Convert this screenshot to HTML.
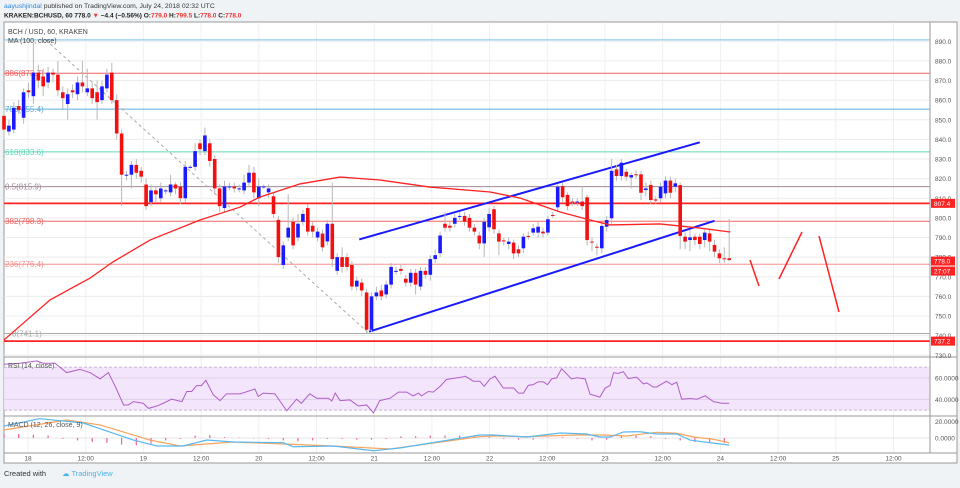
<!DOCTYPE html>
<html><head><meta charset="utf-8">
<style>
html,body{margin:0;padding:0;background:#f0f3f6;}
body{width:960px;height:483px;overflow:hidden;font-family:"Liberation Sans",sans-serif;}
svg text{font-family:"Liberation Sans",sans-serif;}
</style></head>
<body>
<svg id="chart" xmlns="http://www.w3.org/2000/svg" width="960" height="483" viewBox="0 0 960 483">
<rect x="0" y="0" width="960" height="483" fill="#f0f3f6"/>
<text x="4" y="8" font-size="6.8" fill="#2e86de">aayushjindal <tspan fill="#333">published on TradingView.com, July 24, 2018 02:32 UTC</tspan></text>
<text x="4" y="17.5" font-size="6.5" font-weight="bold" fill="#222">KRAKEN:BCHUSD, 60  778.0 <tspan fill="#e33">▼</tspan> −4.4 (−0.56%) O:<tspan fill="#e33">779.0</tspan> H:<tspan fill="#e33">799.5</tspan> L:<tspan fill="#e33">778.0</tspan> C:<tspan fill="#e33">778.0</tspan></text>
<rect x="4" y="22" width="953" height="441" fill="#ffffff" stroke="#999" stroke-width="1"/>
<g id="grid"></g>
<g id="fib"></g>
<g id="draw"></g>
<g id="candles"></g>
<g id="ma"></g>
<g id="rsi"></g>
<g id="macd"></g>
<g id="axes"></g>
<text x="4" y="476" font-size="7.5" fill="#333">Created with</text>
<text x="62" y="476" font-size="7.5" fill="#4ab3e6">☁ TradingView</text>
</svg>
<script>
const opens=[852,844,845,857,851,865,862,874,872,869,874,873,864,858,865,863,869,864,866,864,860,866,874,860,843,822,822,827,824,817,808,814,810,814,813,817,816,810,826,826,838,834,838,830,815,805,816,816,815,814,818,823,810,816,813,811,799,776,790,798,790,798,805,796,790,792,788,797,773,780,780,776,765,767,762,743,760,763,761,766,773,774,769,767,772,765,773,771,779,782,797,796,797,801,801,800,795,791,787,795.2,804.4,792.1,788.5,786.7,787.4,784,784.5,790.8,792.5,792.5,793,792.5,801.5,805.4,816.2,811.7,808.3,808.1,808.3,810.5,787.9,785.3,784.5,795.5,799.8,824.7,821.3,823.5,820.6,822.2,822.2,814.2,816.8,809.4,810,812.5,819,815.9,816.7,790.4,788.7,790.4,790.4,788.7,792.1,786.2,781.9,779.4,779.4];
const closes=[845,847,856,855,864,864,874,870,867,874,873,865,861,863,864,869,867,866,861,859,867,873,860,843,822,822,827,823,821,806,814,812,815,814,817,815,810,826,826,834,835,842,829,815,806,816,816,815,815,818,823,813,816,816,815,802,780,786,795,786,797,802,793,793,793,785,797,779,780,775,775,765,768,763,743,760,762,760,766,775,773,773,767,772,766,773,771,779,781,791,795,795,800,801,798,795,793,787,798,802,794.2,787.9,788.2,787.9,781.9,781.9,790.4,790.6,794.7,795.5,792.1,799.3,801.2,815.9,810.5,806,808.1,808.3,806,788.7,787.6,784.8,795.9,798.9,824,821.3,828.1,821,821.8,822,812.8,815,809.1,808.8,815.9,819,812.8,817.6,790.8,787.9,790.1,788.7,786.7,792.5,787.9,782.8,779.4,779.2,778.5];
const highs=[856,850,859,860,866,869,889,878,876,877,876,880,867,866,868,872,880,876,869,870,870,876,879,863,845,824,829,830,826,820,817,816,818,815,822,818,818,829,827,838,840,846,840,832,817,819,818,818,817,822,827,826,820,817,817,813,801,788,812,800,802,804,807,798,795,794,799,818,782,785,782,778,770,769,764,762,765,766,768,777,775,776,771,774,774,775,775,781,784,793,803,798,802,803,803,802,797,793,800,805,806,794,790,790,789,786,792,793,797,798,795,801,803,817,818,813,810,810,816,812,790,787,798,801,830,827,830,825,823,824,824,818,819,811,818,821,821,820,818,793,794,792,792,794,794,789,784,785,799.5];
const lows=[840,842,843,853,848,861,858,866,862,866,869,862,855,850,861,860,864,862,858,850,858,864,858,840,806,819,815,820,818,804,806,808,808,812,811,812,807,808,825,824,832,832,826,812,803,803,814,813,813,812,816,810,806,815,810,800,777,774,788,784,788,796,791,790,788,783,786,775,771,772,773,763,763,760,741,742,758,758,759,764,771,771,765,765,761,763,769,768,777,780,793,793,795,799,796,793,791,784,780,793,792,781,786,784,779,780,782,789,791,790,790,791,800,803,808,804,806,806,804,786,783,781,782,793,797,819,819,819,815,820,809,811,807,807,808,810,810,813,784,784,783,786,784,785,783,780,777,777,778];
const maIdx=[0,9.4,17.6,22.2,29.8,40,48.2,52.2,60.4,68.6,76.7,86.9,99.2,105.3,113.5,119.6,123.7,133.9,142,148.2];
const maVal=[737.8,758.2,769.4,777.5,788.7,798.9,805.5,810.6,817.3,820.8,819.3,815.7,813.2,810.1,803,798.9,796.4,796.9,794.8,792.8];
const rsiIdx=[0,3.3,6.7,8,10.4,12.8,15.5,17.6,19.6,21.3,22.7,24.4,25.4,26.4,28.4,29.5,31.2,32.5,34.2,36.3,37.3,38.3,39.3,40.3,41.2,42.7,44.1,45.4,48.2,51.2,51.9,52.9,55.3,57.7,59.7,60.7,62.4,63.8,66.2,66.9,67.6,68.6,70.6,72.3,74,75.4,76.7,78.8,80.5,82.2,83.5,84.6,85.2,86.6,87.6,89,90.3,93.7,94.1,95.8,97.1,98,99.2,100.2,101.9,104,105,106,107,108,109,110.1,110.9,111.8,112.8,113.8,115.8,116.9,118.6,119.6,121.6,122.7,123.7,124.4,125.4,126.4,127.4,129.1,130.5,131.2,132.5,133.2,135.2,136.3,137.3,138.3,140,141.4,143.1,144.8,146.5,148];
const rsiVal=[72.9,73.8,76,73.8,73.8,65,68.1,65,59.2,65,52.2,34.8,34.8,37.9,36.4,31.6,33.8,36.4,40.2,37.9,47.4,47.4,52.9,52.9,57.9,44.3,38.9,45.2,45.2,49.7,42.7,45.9,45.2,29.3,40.2,36.4,45.2,41.1,41.1,38.6,45.9,38.9,39.5,33.8,34.8,27.4,38.9,41.1,46.8,46.8,43.3,45.9,43.3,47.4,46.8,52.2,58.6,61.1,61.7,57,57,52.2,59.2,61.7,50.6,50.6,45.9,45.9,53.1,53.8,56.4,56.4,53.8,59.2,60.2,68.7,59.2,60.2,59.2,44.9,42.1,50.6,53.1,64.9,64.3,65.9,59.5,60.8,54.5,55.4,51.6,51.6,57,53.8,56.1,40.2,40.8,40.2,43.3,37.9,36.4,36.4];
const macdIdx=[0,7.3,16.2,26.4,31.2,36.6,41.4,46.8,57,59,67.2,75.4,80.8,97.1,99.9,106.7,113.5,118.9,121.6,123.7,126.4,129.8,133.2,137.3,140,144.1,148];
const macdVal=[14.7,23.7,18.4,-2.5,-9.8,-9.8,-2.5,-4.9,-5.8,-10.7,-9.8,-15.6,-12.3,3.7,3.7,1.2,6.1,4.9,1.2,1.2,7.4,7.7,4.9,4.9,-2.5,-5.8,-8.6];
const sigIdx=[0,12.8,19.6,29.8,35.9,46.8,67.2,78.8,97.1,99.9,106.7,116.9,122.3,127.1,133.2,137.3,140.7,144.8,148];
const sigVal=[9.8,22.1,16,-2.5,-9.8,-4.9,-9.8,-13.5,1.6,2.5,1.6,3.7,3.7,2.5,7,5.8,1.2,-1.6,-5.8];
const histVal=[5,5,4,3,-1,-3,-5,-6,-8,-9,-7,-3,-1,3,3.5,1,0.5,-0.5,-1,-3,-4,-3,-1,-1,-2,-2,-1,2,2,3,3,3,2,1,-1,-2,-2,0.5,1,-1,-3,-2,3,3,2,-1,-3,-5,-5,-6];
const priceTicks=[890,880,870,860,850,840,830,820,810,800,790,780,770,760,750,740,730];
const timeLabels=["18","12:00","19","12:00","20","12:00","21","12:00","22","12:00","23","12:00","24","12:00","25","12:00"];
const fibNames=["1(890.7)","886(873.7)","786(855.4)","618(833.6)","0.5(815.9)","382(798.3)","236(776.4)","0(741.1)"];
const fibPrices=[890.7,873.7,855.4,833.6,815.9,798.3,776.4,741.1];
const fibColors=["#7cc4ea","#f26060","#5aaee0","#5fd6b8","#a08898","#f06464","#f59090","#aaaaaa"];
const levelPrices=[807.4,737.2];

const NS="http://www.w3.org/2000/svg";
const L=4,R=930,TOP=23,MB=357;
function xOf(i){return 4+i*4.9;}
function yOf(p){return 159-(p-830)*1.9625;}
function tx(k){return 28+k*57.7;}
function yRsi(v){return 378-(v-60)*1.07;}
function yMacd(v){return 438-v*0.815;}
function mk(tag,attrs,parent){const e=document.createElementNS(NS,tag);for(const k in attrs)e.setAttribute(k,attrs[k]);parent.appendChild(e);return e;}
const g=id=>document.getElementById(id);

const grid=g('grid');
priceTicks.forEach(p=>{const y=yOf(p);if(y>TOP&&y<MB){const ln=mk('line',{x1:L,x2:R,y1:y,y2:y,stroke:'#ececec','stroke-width':1},grid);

}});
timeLabels.forEach((t,k)=>{const x=tx(k);const ln=mk('line',{x1:x,x2:x,y1:TOP,y2:453,stroke:'#f0f0f0','stroke-width':1},grid);

});

const fib=g('fib');
fibPrices.forEach((p,i)=>{const y=yOf(p);const ln=mk('line',{x1:L,x2:R,y1:y,y2:y,stroke:fibColors[i],'stroke-width':1},fib);


if(i>0){const t=mk('text',{x:i==7?12:5,y:y+3,'font-size':8,fill:fibColors[i]},fib);t.textContent=fibNames[i];

}});
levelPrices.forEach(p=>{const y=yOf(p);const ln=mk('line',{x1:L,x2:R,y1:y,y2:y,stroke:'#f22','stroke-width':1.8},fib);

});

const dr=g('draw');
let d1=mk('line',{x1:xOf(8.5),y1:yOf(890.7),x2:xOf(74.5),y2:yOf(741.1),stroke:'#aaa','stroke-width':1,'stroke-dasharray':'3,3'},dr);


let c1=mk('line',{x1:xOf(72.5),y1:yOf(789),x2:xOf(142),y2:yOf(838.5),stroke:'#1a1aff','stroke-width':2},dr);


let c2=mk('line',{x1:xOf(74.5),y1:yOf(742),x2:xOf(145),y2:yOf(798.5),stroke:'#1a1aff','stroke-width':2},dr);


[[750,260,759,286],[779,279,802,232],[819,236,839,312]].forEach(s=>{const ln=mk('line',{x1:s[0],y1:s[1],x2:s[2],y2:s[3],stroke:'#f22','stroke-width':1.5},dr);

});

const cg=g('candles');
opens.forEach((o,i)=>{const c=closes[i];const x=xOf(i);const up=c>=o;const col=up?'#1a1aff':'#f21010';
const w=mk('line',{x1:x,x2:x,y1:yOf(highs[i]),y2:yOf(lows[i]),stroke:'#b8b8b8','stroke-width':1},cg);


const yt=yOf(Math.max(o,c)),yb=yOf(Math.min(o,c));
const b=mk('rect',{x:x-1.8,y:yt,width:3.6,height:Math.max(1,yb-yt),fill:col},cg);

});

const ma=mk('polyline',{points:maIdx.map((k,i)=>xOf(k)+','+yOf(maVal[i])).join(' '),fill:'none',stroke:'#f22','stroke-width':1.3},g('ma'));



const rg=g('rsi');
let sep=mk('line',{x1:L,x2:957,y1:MB,y2:MB,stroke:'#999','stroke-width':1},rg);


let band=mk('rect',{x:L,y:yRsi(70),width:R-L,height:yRsi(30)-yRsi(70),fill:'#f3e6fc'},rg);


[70,30].forEach(v=>{const ln=mk('line',{x1:L,x2:R,y1:yRsi(v),y2:yRsi(v),stroke:'#c9b3d6','stroke-dasharray':'3,2'},rg);

});
[60,40].forEach(v=>{const ln=mk('line',{x1:L,x2:R,y1:yRsi(v),y2:yRsi(v),stroke:'#e0d0ea'},rg);


const t=mk('text',{x:935,y:yRsi(v)+2.5,'font-size':6.5,fill:'#555'},rg);t.textContent=v.toFixed(4);

});
let rl=mk('polyline',{points:rsiIdx.map((k,i)=>xOf(k)+','+yRsi(rsiVal[i])).join(' '),fill:'none',stroke:'#b05cc8','stroke-width':1},rg);


let rt=mk('text',{x:8,y:368,'font-size':7,fill:'#555'},rg);rt.textContent='RSI (14, close)';



const mg=g('macd');
let sep2=mk('line',{x1:L,x2:957,y1:416,y2:416,stroke:'#999','stroke-width':1},mg);


let z=mk('line',{x1:L,x2:R,y1:yMacd(0),y2:yMacd(0),stroke:'#e4e4e4'},mg);


histVal.forEach((v,i)=>{const x=xOf(i*3);const b=mk('rect',{x:x-0.6,y:Math.min(yMacd(0),yMacd(v)),width:1.2,height:Math.abs(yMacd(v)-yMacd(0)),fill:'#f0609a'},mg);

});
let sl=mk('polyline',{points:sigIdx.map((k,i)=>xOf(k)+','+yMacd(sigVal[i])).join(' '),fill:'none',stroke:'#f7a35c','stroke-width':1.2},mg);


let ml=mk('polyline',{points:macdIdx.map((k,i)=>xOf(k)+','+yMacd(macdVal[i])).join(' '),fill:'none',stroke:'#5ab8f0','stroke-width':1.2},mg);


let mt=mk('text',{x:8,y:427,'font-size':7,fill:'#555'},mg);mt.textContent='MACD (12, 26, close, 9)';


[20,0].forEach(v=>{const t=mk('text',{x:935,y:yMacd(v)+2.5,'font-size':6.5,fill:'#555'},mg);t.textContent=v.toFixed(4);

});

const ax=g('axes');
let al=mk('line',{x1:R,x2:R,y1:22,y2:453,stroke:'#999'},ax);


let bl=mk('line',{x1:4,x2:957,y1:453,y2:453,stroke:'#999'},ax);


priceTicks.forEach(p=>{const t=mk('text',{x:935,y:yOf(p)+2.5,'font-size':6.5,fill:'#555'},ax);t.textContent=p.toFixed(1);

});
timeLabels.forEach((s,k)=>{const t=mk('text',{x:tx(k),y:460.5,'font-size':6.5,fill:'#555','text-anchor':'middle'},ax);t.textContent=s;

});
[[807.4,'807.4',0],[778.0,'778.0',0],[778.0,'27:07',10],[737.2,'737.2',0]].forEach(b=>{const y=yOf(b[0])+b[2];
const r=mk('rect',{x:931,y:y-4.5,width:24,height:9,fill:'#f22'},ax);


const t=mk('text',{x:934,y:y+2.5,'font-size':6.5,fill:'#fff'},ax);t.textContent=b[1];

});
let t1=mk('text',{x:8,y:34,'font-size':7,fill:'#444'},ax);t1.textContent='BCH / USD, 60, KRAKEN';


let t2=mk('text',{x:8,y:43,'font-size':7,fill:'#444'},ax);t2.textContent='MA (100, close)';


</script>
</body></html>
